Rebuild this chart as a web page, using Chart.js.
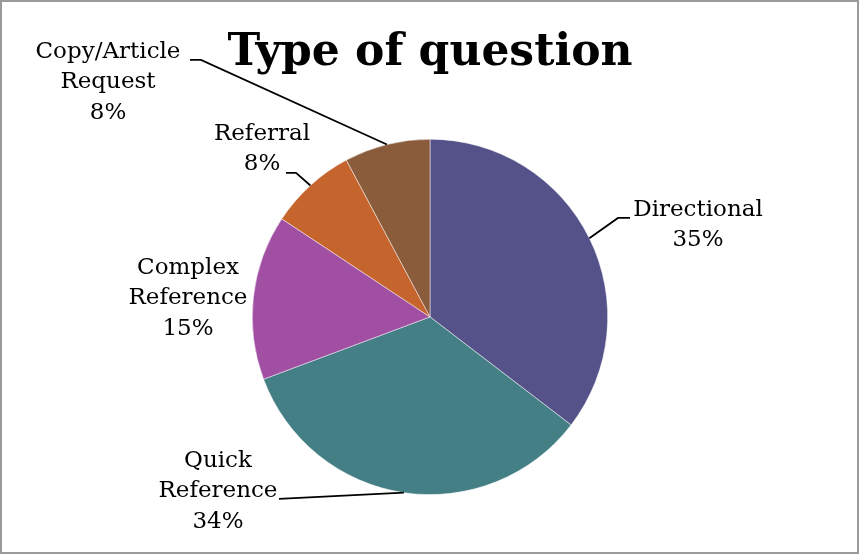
<!DOCTYPE html>
<html>
<head>
<meta charset="utf-8">
<script src="https://cdn.jsdelivr.net/npm/chart.js@4.4.1/dist/chart.umd.min.js"></script>
<style>
  html, body { margin: 0; padding: 0; background: #fff; }
  #wrap { position: absolute; left: 0; top: 0; width: 859px; height: 554px; box-sizing: border-box; border: 2px solid #9a9a9a; }
  #c { position: absolute; left: 0; top: 0; }
</style>
</head>
<body>
<div id="wrap"></div>
<canvas id="c" width="859" height="554"></canvas>
<script>
const titleText = 'Type of question';
const categories = ['Directional', 'Quick Reference', 'Complex Reference', 'Referral', 'Copy/Article Request'];
const labelLines = [['Directional'], ['Quick', 'Reference'], ['Complex', 'Reference'], ['Referral'], ['Copy/Article', 'Request']];
const values = [35.4, 33.9, 15.0, 7.9, 7.8];
const colors = ['#545289', '#437F85', '#A04FA3', '#C5642D', '#8A5C3C'];

// label layout: text block (first line centre) and leader elbow points, as pixel offsets from the pie centre
const labelLayout = [
  { x: 268, y: -107, leader: [[188, -99], [200, -99]] },
  { x: -212, y: 144, leader: [[-151, 182]] },
  { x: -242, y: -49, leader: null },
  { x: -168, y: -183, leader: [[-134, -144], [-144, -144]] },
  { x: -322, y: -265, leader: [[-229, -257], [-240, -257]] }
];
const labelFont = '23px "DejaVu Serif"';
const lineGap = 30.5;

const labelPlugin = {
  id: 'pieLabels',
  afterDatasetsDraw(chart) {
    const ctx = chart.ctx;
    const meta = chart.getDatasetMeta(0);
    const total = values.reduce((a, b) => a + b, 0);
    ctx.save();
    meta.data.forEach((arc, i) => {
      const p = arc.getProps(['x', 'y', 'startAngle', 'endAngle', 'outerRadius'], true);
      const mid = (p.startAngle + p.endAngle) / 2;
      const sx = p.x + Math.cos(mid) * p.outerRadius;
      const sy = p.y + Math.sin(mid) * p.outerRadius;
      const L = labelLayout[i];
      if (L.leader) {
        ctx.beginPath();
        ctx.strokeStyle = '#000';
        ctx.lineWidth = 1.8;
        ctx.moveTo(sx, sy);
        L.leader.forEach(pt => ctx.lineTo(p.x + pt[0], p.y + pt[1]));
        ctx.stroke();
      }
      const lines = labelLines[i].concat([Math.round(values[i] / total * 100) + '%']);
      ctx.fillStyle = '#000';
      ctx.font = labelFont;
      ctx.textAlign = 'center';
      ctx.textBaseline = 'middle';
      lines.forEach((t, k) => ctx.fillText(t, p.x + L.x, p.y + L.y + k * lineGap));
    });
    ctx.restore();
  }
};

new Chart(document.getElementById('c'), {
  type: 'pie',
  data: {
    labels: categories,
    datasets: [{
      data: values,
      backgroundColor: colors,
      borderColor: 'rgba(255,255,255,0.6)',
      borderWidth: 0.8
    }]
  },
  options: {
    responsive: false,
    animation: false,
    layout: { padding: { top: 10, bottom: 59, left: 1, right: 0 } },
    plugins: {
      legend: { display: false },
      tooltip: { enabled: false },
      title: {
        display: true,
        text: titleText,
        color: '#000',
        font: { family: '"DejaVu Serif"', size: 44, weight: 'bold', lineHeight: 1.2 },
        padding: { top: 17, bottom: 59 }
      }
    }
  },
  plugins: [labelPlugin]
});
</script>
</body>
</html>
